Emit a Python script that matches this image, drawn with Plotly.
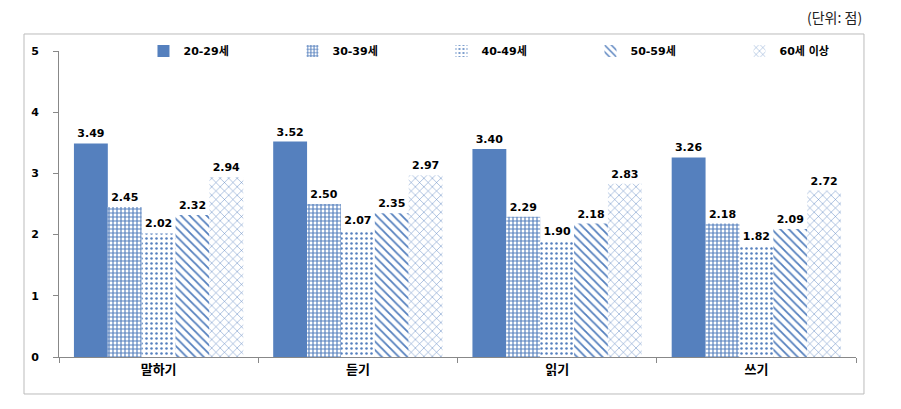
import plotly.graph_objects as go

categories = ["말하기", "듣기", "읽기", "쓰기"]
series_names = ["20-29세", "30-39세", "40-49세", "50-59세", "60세 이상"]
v20 = [3.49, 3.52, 3.40, 3.26]
v30 = [2.45, 2.50, 2.29, 2.18]
v40 = [2.02, 2.07, 1.90, 1.82]
v50 = [2.32, 2.35, 2.18, 2.09]
v60 = [2.94, 2.97, 2.83, 2.72]
y_ticks = [0, 1, 2, 3, 4, 5]

values = [v20, v30, v40, v50, v60]
patterns = ["", "+", ".", "\\", "x"]
sizes = [8, 4, 5, 6, 6]
solidity = [0.3, 0.5, 0.2, 0.3, 0.15]
blue = "#5580BE"

fig = go.Figure()
for name, vals, pat, sz, so in zip(series_names, values, patterns, sizes, solidity):
    marker = dict(color=blue, line=dict(width=0))
    if pat:
        marker["pattern"] = dict(shape=pat, fgcolor=blue, bgcolor="white", size=sz, solidity=so, fillmode="replace")
    fig.add_trace(go.Bar(
        x=categories, y=vals, name=name, marker=marker,
        text=[f"{v:.2f}" for v in vals], textposition="outside",
        textfont=dict(family="DejaVu Sans", size=11, color="black", weight="bold"),
        cliponaxis=False,
    ))

fig.update_layout(
    width=901, height=409,
    margin=dict(l=59, r=45, t=51, b=52, autoexpand=False),
    paper_bgcolor="white", plot_bgcolor="white",
    barmode="group", bargap=0.15, bargroupgap=0,
    showlegend=True,
    legend=dict(orientation="h", x=0.106, xanchor="left", y=1.0, yanchor="middle",
                entrywidth=104, entrywidthmode="pixels",
                font=dict(family="DejaVu Sans, Noto Sans CJK KR", size=11, color="black", weight="bold"),
                itemwidth=30, tracegroupgap=0, bgcolor="rgba(0,0,0,0)"),
    font=dict(family="DejaVu Sans"),
    yaxis=dict(range=[0, 5], tickvals=y_ticks, showgrid=False, zeroline=False,
               showline=True, linecolor="#888888", linewidth=1,
               ticks="outside", ticklen=5, tickcolor="#888888",
               tickfont=dict(family="DejaVu Sans", size=11, color="black", weight="bold"),
               ticklabelstandoff=12),
    xaxis=dict(showline=True, linecolor="#888888", linewidth=1, showgrid=False,
               ticks="outside", tickson="boundaries", ticklen=5, tickcolor="#888888",
               tickfont=dict(family="Noto Sans CJK KR", size=13, color="black", weight="bold")),
    shapes=[dict(type="rect", xref="paper", yref="paper",
                 x0=-0.0439, x1=1.0100, y0=-0.1209, y1=1.0556,
                 line=dict(color="#BBBBBB", width=1), fillcolor="rgba(0,0,0,0)", layer="below")],
    annotations=[dict(text="(단위: 점)", xref="paper", yref="paper", x=1.0100, y=1.11,
                      xanchor="right", yanchor="middle", showarrow=False,
                      font=dict(family="Noto Sans CJK KR", size=14, color="#222222"))],
)

fig.write_html("out.html")
